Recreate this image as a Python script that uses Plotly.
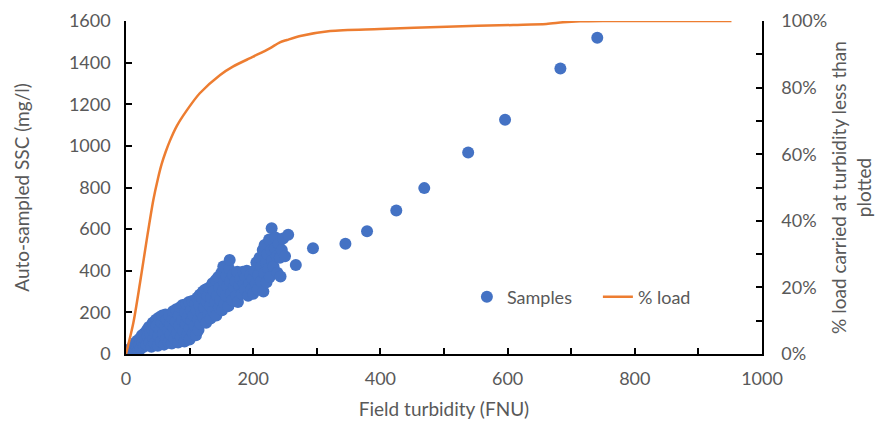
import plotly.graph_objects as go

# Samples: field turbidity (FNU) vs auto-sampled SSC (mg/l)
sample_turbidity = [
    2, 4, 5, 7, 8, 10, 11, 13, 14, 15, 17, 18, 19, 21, 22, 23, 25, 26, 28, 29, 30, 32, 33, 34, 36, 37, 38, 40, 41,
    42, 43, 45, 46, 47, 48, 50, 51, 52, 53, 55, 56, 57, 58, 60, 61, 62, 63, 64, 66, 67, 68, 69, 70,
    72, 73, 74, 75, 76, 78, 79, 80, 82, 83, 84, 85, 86, 88, 89, 90, 92, 93, 94, 95, 96, 97, 99, 100, 100,
    102, 103, 104, 105, 106, 108, 109, 110, 111, 112, 113, 114, 115, 116, 117, 118, 120, 121, 122, 123, 125, 126, 127, 128, 129,
    131, 132, 133, 134, 136, 137, 138, 140, 141, 142, 143, 145, 146, 147, 148, 150, 151, 152, 153, 154, 155, 157, 158, 159,
    161, 162, 163, 164, 165, 167, 168, 170, 172, 173, 175, 176, 178, 180, 182, 184, 185, 187, 188, 190, 192, 194, 195, 197, 199,
    200, 202, 204, 205, 207, 208, 210, 212, 213, 215, 216, 217, 218, 220, 221, 222, 224, 225, 226, 228, 229, 230, 232, 234, 235,
    237, 238, 240, 242, 243, 245, 247, 250, 255,
    267, 294, 345, 379, 425, 469, 538, 596, 683, 741,
]
sample_ssc = [
    8, 18, 5, 25, 12, 35, 20, 45, 10, 55, 30, 65, 15, 45, 75, 25, 90, 55, 35, 100, 70, 45, 115, 85, 130, 55, 100, 35, 120,
    150, 75, 50, 105, 165, 135, 40, 90, 175, 120, 60, 150, 185, 100, 45, 135, 190, 75, 165, 115, 55, 185, 145, 95,
    50, 170, 205, 125, 75, 155, 215, 100, 55, 185, 135, 225, 80, 165, 235, 110, 60, 200, 145, 240, 90, 175, 250, 70, 125,
    210, 160, 255, 100, 185, 135, 240, 90, 210, 270, 165, 115, 235, 285, 145, 200, 265, 300, 175, 225, 310, 150, 250, 280, 195,
    320, 230, 170, 270, 340, 205, 300, 250, 355, 185, 280, 370, 225, 320, 260, 390, 210, 300, 420, 345, 240, 280, 375, 325,
    230, 410, 452, 350, 290, 260, 380, 320, 350, 280, 395, 250, 330, 360, 290, 395, 340, 310, 370, 400, 280, 340, 380, 310, 360,
    290, 400, 340, 440, 310, 380, 462, 350, 420, 500, 300, 390, 524, 440, 345, 480, 410, 550, 370, 500, 604, 450, 420, 508, 560,
    470, 390, 530, 462, 372, 500, 555, 470, 573,
    428, 508, 530, 590, 690, 797, 968, 1125, 1372, 1520,
]

# Cumulative % load carried at turbidity less than plotted
load_turbidity = [0, 11.5, 22, 32.5, 42.9, 50, 56, 62, 69, 80, 95, 116, 148, 168, 200, 226, 242, 253, 274,
                  321, 399, 504, 609, 661, 687, 714, 750, 952]
load_fraction = [0, 0.093, 0.213, 0.342, 0.462, 0.525, 0.57, 0.605, 0.64, 0.685, 0.73, 0.783, 0.838, 0.863, 0.893,
                 0.918, 0.936, 0.943, 0.955, 0.97, 0.976, 0.983, 0.988, 0.991, 0.996, 0.999, 1.0, 1.0]

FONT = "Lato"
GREY = "#595959"

fig = go.Figure()
fig.add_trace(go.Scatter(
    x=sample_turbidity, y=sample_ssc, mode="markers", name="Samples",
    marker=dict(color="#4472C4", size=12, line=dict(width=0)),
))
fig.add_trace(go.Scatter(
    x=load_turbidity, y=load_fraction, mode="lines", name="% load",
    line=dict(color="#ED7D31", width=2.5, shape="spline", smoothing=0.8),
    yaxis="y2",
))

axis_common = dict(
    showline=True, linecolor="black", linewidth=1.5, ticks="inside", ticklen=6, tickwidth=1.5,
    tickcolor="black", showgrid=False, zeroline=False, automargin=False,
    tickfont=dict(family=FONT, size=18, color=GREY),
)
TITLE_FONT = dict(family=FONT, size=19, color=GREY)

fig.update_layout(
    width=875, height=423,
    margin=dict(l=126, r=113, t=21, b=69),
    paper_bgcolor="white", plot_bgcolor="white",
    font=dict(family=FONT, color=GREY),
    xaxis=dict(
        range=[0, 1000], dtick=200, tick0=0,
        minor=dict(dtick=100, ticks="inside", ticklen=6, tickwidth=1.5, tickcolor="black"),
        title=dict(text="Field turbidity (FNU)", font=TITLE_FONT, standoff=14),
        ticklabelstandoff=8,
        **axis_common,
    ),
    yaxis=dict(
        range=[0, 1600], dtick=200, tick0=0,
        title=dict(text="Auto-sampled SSC (mg/l)", font=TITLE_FONT, standoff=34),
        ticklabelstandoff=10,
        **axis_common,
    ),
    yaxis2=dict(
        range=[0, 1], dtick=0.2, tick0=0, tickformat=".0%", overlaying="y", side="right",
        minor=dict(dtick=0.1, ticks="inside", ticklen=6, tickwidth=1.5, tickcolor="black"),
        title=dict(text="% load carried at turbidity less than<br>plotted",
                   font=TITLE_FONT, standoff=10),
        ticklabelstandoff=14,
        **axis_common,
    ),
    legend=dict(
        orientation="h", x=0.536, y=0.171, xanchor="left", yanchor="middle",
        bgcolor="rgba(0,0,0,0)", font=dict(family=FONT, size=18, color=GREY),
        itemwidth=30, entrywidth=86,
    ),
    showlegend=True,
)

fig.write_html("out.html")
